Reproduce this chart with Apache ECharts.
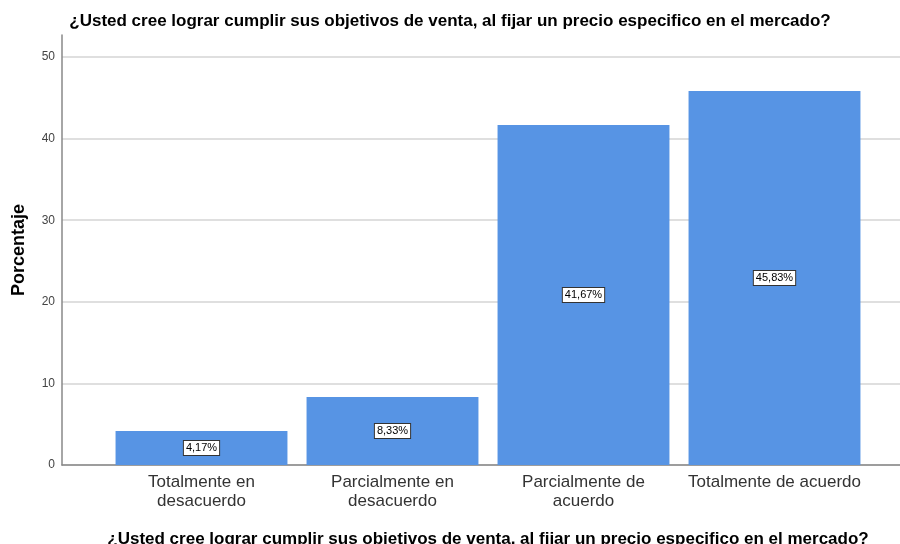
<!DOCTYPE html>
<html>
<head>
<meta charset="utf-8">
<script src="https://cdn.jsdelivr.net/npm/echarts@6/dist/echarts.min.js"></script>
<style>html,body{margin:0;padding:0;background:#fff}#c{width:900px;height:544px}</style>
</head>
<body>
<div id="c"></div>
<script>
const titleText = '¿Usted cree lograr cumplir sus objetivos de venta, al fijar un precio especifico en el mercado?';
const categories = ['Totalmente en\ndesacuerdo', 'Parcialmente en\ndesacuerdo', 'Parcialmente de\nacuerdo', 'Totalmente de acuerdo'];
const values = [4.17, 8.33, 41.67, 45.83];
const yTicks = [0, 10, 20, 30, 40, 50];
const yName = 'Porcentaje';

const font = '"Liberation Sans", Arial, sans-serif';
const chart = echarts.init(document.getElementById('c'), null, {renderer: 'canvas'});
chart.setOption({
  animation: false,
  backgroundColor: '#fff',
  title: {
    text: titleText, left: 'center', top: 8,
    textStyle: {fontFamily: font, fontSize: 17, fontWeight: 'bold', color: '#000'}
  },
  grid: [
    {left: 62, right: 0, top: 35, bottom: 79, outerBoundsMode: 'none', containLabel: false},
    {left: 62, right: 0, top: 57, bottom: 79, outerBoundsMode: 'none', containLabel: false},
    {left: 106, right: 30, top: 57, bottom: 79, outerBoundsMode: 'none', containLabel: false}
  ],
  xAxis: [
    {gridIndex: 0, type: 'category', data: categories, axisLine: {show: true, lineStyle: {color: '#888', width: 1.5}},
     axisTick: {show: false}, axisLabel: {show: false}, splitLine: {show: false}},
    {gridIndex: 1, type: 'category', data: categories, show: false},
    {gridIndex: 2, type: 'category', data: categories,
     axisLine: {show: false}, axisTick: {show: false},
     axisLabel: {fontFamily: font, fontSize: 17, color: '#333', margin: 8, lineHeight: 19, interval: 0},
     name: titleText, nameLocation: 'middle', nameGap: 66,
     nameTextStyle: {fontFamily: font, fontSize: 17, fontWeight: 'bold', color: '#000'}}
  ],
  yAxis: [
    {gridIndex: 0, type: 'value', min: 0, max: 52.7, interval: 10,
     axisLine: {show: true, lineStyle: {color: '#888', width: 1.5}}, axisTick: {show: false},
     axisLabel: {fontFamily: font, fontSize: 12, color: '#444', margin: 7, showMaxLabel: false,
       formatter: v => yTicks.includes(v) ? String(v) : ''},
     splitLine: {show: false},
     name: yName, nameLocation: 'middle', nameGap: 34,
     nameTextStyle: {fontFamily: font, fontSize: 18, fontWeight: 'bold', color: '#000'}},
    {gridIndex: 1, type: 'value', min: 0, max: 50, interval: 10,
     axisLine: {show: false}, axisTick: {show: false}, axisLabel: {show: false},
     splitLine: {show: true, lineStyle: {color: '#d4d4d4', width: 1.5}}},
    {gridIndex: 2, type: 'value', min: 0, max: 50, interval: 10, show: false, splitLine: {show: false}}
  ],
  series: [{
    type: 'bar', xAxisIndex: 2, yAxisIndex: 2, data: values,
    barCategoryGap: '10%',
    itemStyle: {color: '#5794e4'},
    label: {
      show: true, position: 'inside',
      formatter: p => p.value.toFixed(2).replace('.', ',') + '%',
      fontFamily: font, fontSize: 11, color: '#000',
      backgroundColor: '#fff', borderColor: '#333', borderWidth: 1, padding: [2, 2, 1, 2]
    }
  }]
});
</script>
</body>
</html>
